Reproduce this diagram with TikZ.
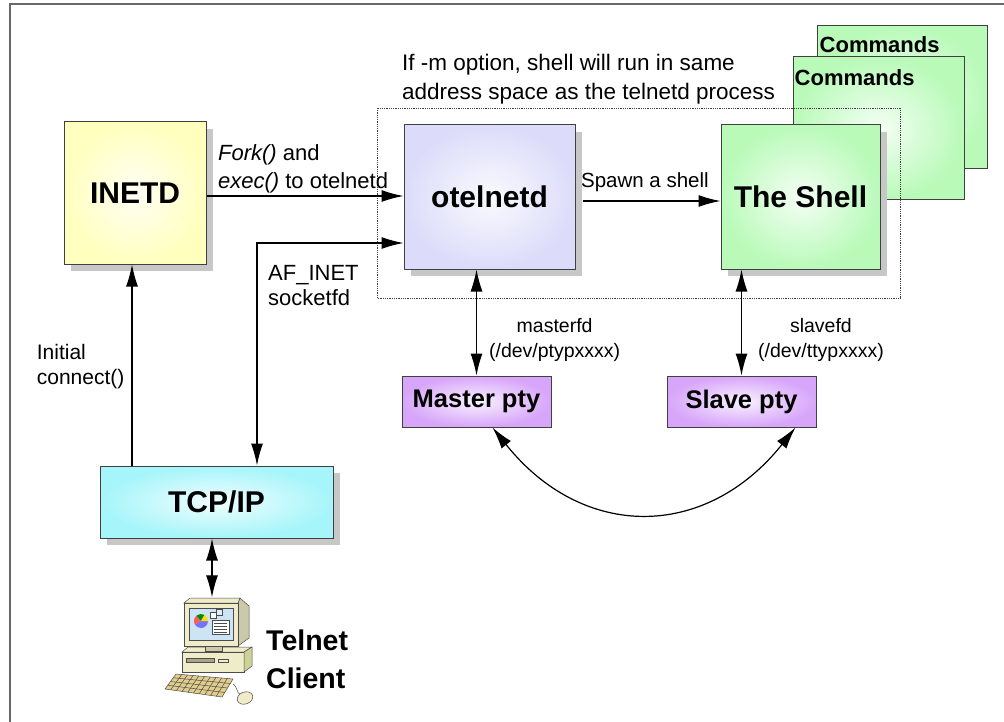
\documentclass[tikz,border=0pt]{standalone}
\usepackage{fontspec}
\setmainfont{Liberation Sans}
\usetikzlibrary{arrows.meta,shadows,positioning,calc}

\definecolor{inetdyellow}{RGB}{255,255,190}
\definecolor{telnetblue}{RGB}{220,220,250}
\definecolor{shellgreen}{RGB}{185,250,185}
\definecolor{ptypurple}{RGB}{215,165,250}
\definecolor{tcpcyan}{RGB}{165,245,250}
\definecolor{framegray}{RGB}{105,105,105}
\definecolor{pcbeige}{RGB}{240,235,200}
\definecolor{pcside}{RGB}{205,210,150}
\definecolor{pcscreen}{RGB}{205,228,245}
\definecolor{pckeys}{RGB}{225,205,140}

\begin{document}
\begin{tikzpicture}[x=1pt,y=-1pt,
    box/.style={draw=black!75, line width=1pt, inner sep=0pt, shading=radial,
      inner color=#1!15, outer color=#1},
    shade7/.style={drop shadow={shadow xshift=7pt, shadow yshift=-7pt, fill=black!22, opacity=1}},
    big/.style={font=\fontsize{30}{36}\selectfont\bfseries},
    lbl/.style={inner sep=0pt, align=left},
    link/.style={line width=1.2pt, -{Latex[length=22pt,width=12pt]}},
    dlink/.style={line width=1.2pt, {Latex[length=22pt,width=12pt]}-{Latex[length=22pt,width=12pt]}}]
  \useasboundingbox (0,0) rectangle (1004,722);
  \draw[framegray, line width=2pt] (10,722) -- (10,4) -- (1004,4);

  % commands run by the shell
  \node[box=shellgreen, minimum width=170pt, minimum height=143pt,
    label={[anchor=north west, inner sep=0pt, xshift=3pt, yshift=-11pt, font=\fontsize{22}{26}\selectfont\bfseries]north west:Commands}] (cmdback) at (902,97.5) {};
  \node[box=shellgreen, minimum width=171pt, minimum height=143pt,
    label={[anchor=north west, inner sep=0pt, xshift=2pt, yshift=-13pt, font=\fontsize{22}{26}\selectfont\bfseries]north west:Commands}] (cmdfront) at (878.5,128.5) {};

  % -m : one address space
  \draw[densely dotted, line width=0.8pt, black!75] (377,108) rectangle (900,298);
  \node[lbl, anchor=north west, font=\fontsize{22.5}{29}\selectfont] (mnote) at (402,54)
    {If -m option, shell will run in same\\address space as the telnetd process};

  \node[box=inetdyellow, shade7, big, minimum width=142pt, minimum height=142pt] (inetd) at (135,193) {INETD};
  \node[box=telnetblue, shade7, big, minimum width=171pt, minimum height=144pt] (otelnetd) at (489.5,197) {otelnetd};
  \node[box=shellgreen, shade7, big, minimum width=159pt, minimum height=144pt] (shell) at (800.5,197) {The Shell};
  \node[box=ptypurple, font=\fontsize{25.5}{30}\selectfont\bfseries, minimum width=149pt, minimum height=51pt] (mpty) at (476.5,401.5) {Master pty};
  \node[box=ptypurple, font=\fontsize{25.5}{30}\selectfont\bfseries, minimum width=149pt, minimum height=51pt] (spty) at (741.5,401.5) {Slave pty};
  \node[box=tcpcyan, shade7, big, minimum width=233pt, minimum height=72pt] (tcpip) at (216.5,502) {TCP/IP};
  \node[minimum width=80pt, minimum height=107pt, inner sep=0pt] (client) at (212,651) {};
  \node[lbl, anchor=west, font=\fontsize{28.5}{38}\selectfont\bfseries] (clientname) at (266,659) {Telnet\\Client};

  % the client machine
  \begin{scope}[shift={(client.center)}, line width=0.5pt, draw=black!70]
    \filldraw[fill=pcbeige!85!black] (26,-48) -- (28,-53) -- (37,-45) -- (37,-13) -- (26,-5) -- cycle;
    \filldraw[fill=pcbeige] (-28,-48) -- (-22,-53) -- (28,-53) -- (26,-48) -- cycle;
    \filldraw[fill=pcbeige] (-28,-48) rectangle (26,-5);
    \filldraw[fill=pcscreen] (-23,-43) rectangle (21,-11);
    \fill[blue!55] (-11,-30) -- +(0:7) arc[start angle=0, end angle=150, radius=7] -- cycle;
    \fill[red!65] (-11,-30) -- +(150:7) arc[start angle=150, end angle=230, radius=7] -- cycle;
    \fill[green!55!black] (-11,-30) -- +(230:7) arc[start angle=230, end angle=300, radius=7] -- cycle;
    \fill[yellow!80!orange] (-11,-30) -- +(300:7) arc[start angle=300, end angle=360, radius=7] -- cycle;
    \filldraw[fill=white] (-2,-39) rectangle (4,-33);
    \filldraw[fill=pcscreen!60] (4,-42) rectangle (10,-36);
    \filldraw[fill=white] (0,-31) rectangle (17,-17);
    \foreach \r in {-28,-25,-22,-19} \draw (2,\r) -- (15,\r);
    \filldraw[fill=pcbeige] (-30,1) -- (-24,-4) -- (40,-4) -- (32,1) -- cycle;
    \filldraw[fill=pcbeige] (-30,1) rectangle (32,21);
    \filldraw[fill=pcside] (32,1) -- (40,-4) -- (40,15) -- (32,21) -- cycle;
    \filldraw[fill=pcbeige!85!black] (-7,-5) rectangle (10,0);
    \filldraw[fill=pcbeige!70!black] (-26,7) rectangle (2,11);
    \draw (6,8) rectangle (16,11);
    \filldraw[fill=pckeys] (-47,38) -- (-36,23) -- (21,28) -- (10,46) -- cycle;
    \foreach \t in {0.25,0.5,0.75}
      \draw ($(-47,38)!\t!(-36,23)$) -- ($(10,46)!\t!(21,28)$);
    \foreach \t in {0.1,0.2,...,0.9}
      \draw ($(-36,23)!\t!(21,28)$) -- ($(-47,38)!\t!(10,46)$);
    \draw (21,33) .. controls (26,36) and (24,42) .. (29,44);
    \filldraw[fill=pcbeige] (33,47) ellipse[x radius=8, y radius=6, rotate=20];
  \end{scope}

  % connections
  \coordinate (forkout) at ([yshift=-3pt]inetd.east);
  \draw[link] (forkout) -- (forkout -| otelnetd.west)
    node[lbl, pos=0, anchor=south west, xshift=11pt, yshift=2pt, font=\fontsize{22}{28}\selectfont]
    {\textit{Fork()} and\\\textit{exec()} to otelnetd};

  \coordinate (sockbend) at (257,243);
  \draw[dlink] (tcpip.north -| sockbend) -- (sockbend) -- (sockbend -| otelnetd.west);
  \node[lbl, below right=22pt and 11pt of sockbend, font=\fontsize{22}{25}\selectfont] (afinet) {AF\_INET\\socketfd};

  \coordinate (connup) at ([xshift=-3pt]inetd.south);
  \draw[link] (connup |- tcpip.north) -- (connup)
    node[lbl, pos=0.49, anchor=east, xshift=-7pt, font=\fontsize{21}{25}\selectfont] {Initial\\connect()};

  \coordinate (spawnout) at ([xshift=7pt,yshift=-4pt]otelnetd.east);
  \draw[link] (spawnout) -- (spawnout -| shell.west)
    node[lbl, pos=0, anchor=south west, xshift=-2pt, yshift=9pt, font=\fontsize{20.5}{25}\selectfont] {Spawn a shell};

  \draw[dlink] (mpty.north |- otelnetd.south) -- (mpty.north)
    node[lbl, pos=0.66, anchor=west, xshift=12pt, align=center, font=\fontsize{19.5}{25}\selectfont] {masterfd\\(/dev/ptypxxxx)};
  \draw[dlink] (spty.north |- shell.south) -- (spty.north)
    node[lbl, pos=0.66, anchor=west, xshift=16pt, align=center, font=\fontsize{19.5}{25}\selectfont] {slavefd\\(/dev/ttypxxxx)};

  \draw[dlink] ([xshift=16pt]mpty.south) .. controls +(90,113) and +(-90,113) .. ([xshift=54pt]spty.south);

  \draw[dlink] (tcpip.south -| client.north) -- (client.north);
\end{tikzpicture}
\end{document}
